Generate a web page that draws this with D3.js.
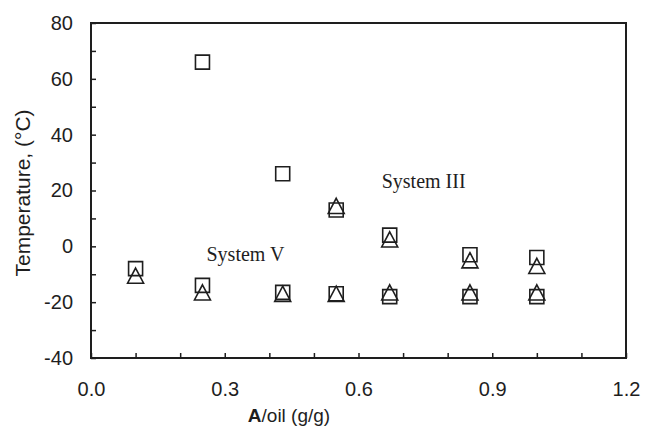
<!DOCTYPE html>
<html>
<head>
<meta charset="utf-8">
<script src="https://cdn.jsdelivr.net/npm/d3@7"></script>
<style>
  body { margin: 0; background: #fff; }
  svg { display: block; }
</style>
</head>
<body>
<svg id="chart" width="647" height="437"></svg>
<script>
// A/oil ratio (g/g) and temperatures.
var sqHighX = [0.25, 0.43, 0.55, 0.67, 0.85, 1.0];
var sqHighY = [66, 26, 13, 4, -3, -4];
var sqLowX = [0.1, 0.25, 0.43, 0.55, 0.67, 0.85, 1.0];
var sqLowY = [-8, -14, -16.5, -17, -18, -18, -18];
var triHighX = [0.55, 0.67, 0.85, 1.0];
var triHighY = [14.5, 2.5, -5, -7];
var triLowX = [0.1, 0.25, 0.43, 0.55, 0.67, 0.85, 1.0];
var triLowY = [-10.5, -16.5, -17, -17, -16.5, -16.5, -16.5];

var xDomain = [0, 1.2];
var yDomain = [-40, 80];
var xTickValues = d3.range(0, 13).map(function(i) { return i / 10; });
var yTickValues = d3.range(-40, 81, 10);

var annotations = [
    { text: "System III", x: 0.652, y: 20.9 },
    { text: "System V", x: 0.259, y: -5.3 }
];

var svg = d3.select("#chart");
var margin = { left: 91, right: 21, top: 23, bottom: 79 };
var width = 647 - margin.left - margin.right;
var height = 437 - margin.top - margin.bottom;
var ink = "#1e1e1e";
var sans = "Liberation Sans, Arial, sans-serif";

var x = d3.scaleLinear().domain(xDomain).range([0, width]);
var y = d3.scaleLinear().domain(yDomain).range([height, 0]);

var g = svg.append("g").attr("transform", "translate(" + margin.left + "," + margin.top + ")");

// Frame.
g.append("rect")
    .attr("x", 0).attr("y", 0)
    .attr("width", width).attr("height", height)
    .attr("fill", "none")
    .attr("stroke", ink)
    .attr("stroke-width", 2);

// Axes with inward ticks.
var xAxis = d3.axisBottom(x)
    .tickValues(xTickValues)
    .tickSize(-5)
    .tickPadding(24)
    .tickFormat(function(d) {
        var k = Math.round(d * 10);
        return k % 3 === 0 ? d3.format(".1f")(d) : "";
    });

var yAxis = d3.axisLeft(y)
    .tickValues(yTickValues)
    .tickSize(-5)
    .tickPadding(18)
    .tickFormat(function(d) { return d % 20 === 0 ? d : ""; });

function styleAxis(sel) {
    sel.select(".domain").remove();
    sel.selectAll(".tick line").attr("stroke", ink).attr("stroke-width", 1.5);
    sel.selectAll(".tick text")
        .attr("fill", ink)
        .style("font-family", sans)
        .style("font-size", "20px");
}

g.append("g").attr("transform", "translate(0," + height + ")").call(xAxis).call(styleAxis);
g.append("g").call(yAxis).call(styleAxis);

// Axis titles.
var xTitle = svg.append("text")
    .attr("x", 289).attr("y", 422)
    .attr("text-anchor", "middle")
    .attr("fill", ink)
    .style("font-family", sans)
    .style("font-size", "19px");
xTitle.append("tspan").attr("font-weight", "bold").text("A");
xTitle.append("tspan").text("/oil (g/g)");

svg.append("text")
    .attr("transform", "translate(30,193) rotate(-90)")
    .attr("text-anchor", "middle")
    .attr("fill", ink)
    .style("font-family", sans)
    .style("font-size", "21px")
    .text("Temperature, (°C)");

// Triangle centred on its bounding box.
var boxTriangle = {
    draw: function(context, size) {
        var s = Math.sqrt(size);
        var h = s * 0.95;
        context.moveTo(0, -h / 2);
        context.lineTo(s / 2, h / 2);
        context.lineTo(-s / 2, h / 2);
        context.closePath();
    }
};

function plotSeries(xs, ys, type, size) {
    var pts = xs.map(function(v, i) { return [v, ys[i]]; });
    g.append("g").selectAll("path")
        .data(pts)
        .enter()
        .append("path")
        .attr("transform", function(d) { return "translate(" + x(d[0]) + "," + y(d[1]) + ")"; })
        .attr("d", d3.symbol().type(type).size(size))
        .attr("fill", "none")
        .attr("stroke", ink)
        .attr("stroke-width", 1.6);
}

plotSeries(sqHighX, sqHighY, d3.symbolSquare, 196);
plotSeries(sqLowX, sqLowY, d3.symbolSquare, 196);
plotSeries(triHighX, triHighY, boxTriangle, 256);
plotSeries(triLowX, triLowY, boxTriangle, 256);

// Series labels.
g.selectAll("text.note")
    .data(annotations)
    .enter()
    .append("text")
    .attr("class", "note")
    .attr("x", function(d) { return x(d.x); })
    .attr("y", function(d) { return y(d.y); })
    .attr("fill", ink)
    .style("font-family", "Liberation Serif, Times New Roman, serif")
    .style("font-size", "20px")
    .text(function(d) { return d.text; });
</script>
</body>
</html>
